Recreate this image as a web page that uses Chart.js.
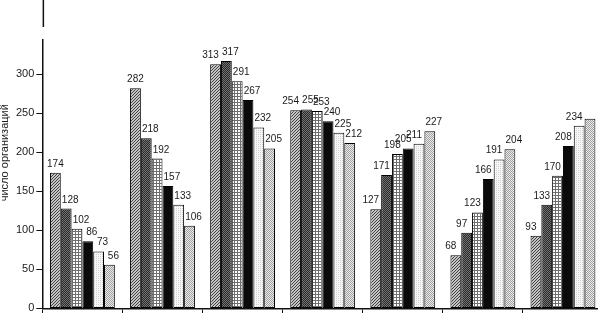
<!DOCTYPE html>
<html>
<head>
<meta charset="utf-8">
<script src="https://cdn.jsdelivr.net/npm/chart.js@4.4.0/dist/chart.umd.min.js"></script>
<style>
    html, body { margin: 0; padding: 0; background: #fff; overflow: hidden; }
    #wrap { width: 598px; height: 313px; overflow: hidden; }
</style>
</head>
<body>
<div id="wrap"><canvas id="chartbar" width="612" height="317"></canvas></div>
<script>
// Data: 7 groups, 6 bars in each
const groups = ['1', '2', '3', '4', '5', '6', '7'];
const series1 = [174, 282, 313, 254, 127, 68, 93];
const series2 = [128, 218, 317, 255, 171, 97, 133];
const series3 = [102, 192, 291, 253, 198, 123, 170];
const series4 = [86, 157, 267, 240, 205, 166, 208];
const series5 = [73, 133, 232, 225, 211, 191, 234];
const series6 = [56, 106, 205, 212, 227, 204, 243];
const yTicks = [0, 50, 100, 150, 200, 250, 300];
const yMax = 344;
const yTitle = 'число организаций';
// the last bar of the last group carries no number in the original
const unlabeled = [[5, 6]];

// small tiles used as bar fills
function makePattern(size, bg, fg, pixels) {
    const c = document.createElement('canvas');
    c.width = size;
    c.height = size;
    const g = c.getContext('2d');
    g.fillStyle = bg;
    g.fillRect(0, 0, size, size);
    g.fillStyle = fg;
    pixels.forEach(p => g.fillRect(p[0], p[1], 1, 1));
    return g.createPattern(c, 'repeat');
}

const fills = [
    makePattern(3, '#c4c4c4', '#404040', [[0, 2], [1, 1], [2, 0]]),            // diagonal hatch
    makePattern(2, '#2a2a2a', '#727272', [[0, 0], [1, 1]]),                      // dark dense
    makePattern(3, '#ffffff', '#6e6e6e', [[0, 0], [1, 0], [2, 0], [0, 1], [0, 2]]), // grid
    '#0a0a0a',                                                                     // solid black
    makePattern(2, '#f7f7f7', '#cfcfcf', [[0, 0]]),                              // light stipple
    makePattern(2, '#ebebeb', '#a0a0a0', [[0, 0], [1, 1]])                       // dotted
];

const allSeries = [series1, series2, series3, series4, series5, series6];

const barData = {
    labels: groups,
    datasets: allSeries.map((s, i) => ({
        data: s,
        backgroundColor: fills[i],
        borderColor: '#000',
        borderWidth: 1,
        borderSkipped: false
    }))
};

// numbers over the bars: nudged towards the lower neighbour, like the original
const valueLabels = {
    id: 'valueLabels',
    beforeDatasetsDraw(chart) {
        const ctx = chart.ctx;
        const sets = chart.data.datasets;
        ctx.save();
        ctx.font = '10px "Liberation Sans", Arial, sans-serif';
        ctx.fillStyle = '#1a1a1a';
        ctx.textAlign = 'center';
        ctx.textBaseline = 'alphabetic';
        sets.forEach((ds, di) => {
            chart.getDatasetMeta(di).data.forEach((bar, idx) => {
                if (unlabeled.some(u => u[0] === di && u[1] === idx)) return;
                const v = ds.data[idx];
                const next = di < sets.length - 1 ? sets[di + 1].data[idx] : null;
                const prev = di > 0 ? sets[di - 1].data[idx] : null;
                let shift = 0;
                if (next !== null && next > v) shift = -5;
                else if (prev !== null) shift = 4;
                ctx.fillText(String(v), bar.x + shift, bar.y - 6);
            });
        });
        ctx.restore();
    },
    afterDraw(chart) {
        const ctx = chart.ctx;
        const area = chart.chartArea;
        ctx.save();
        // rotated axis title
        ctx.font = '11px "Liberation Sans", Arial, sans-serif';
        ctx.fillStyle = '#1a1a1a';
        ctx.textAlign = 'center';
        ctx.textBaseline = 'middle';
        ctx.translate(5, area.top + area.height * 0.42);
        ctx.rotate(-Math.PI / 2);
        ctx.fillText(yTitle, 0, 0);
        ctx.restore();
        // stray axis piece above the break
        ctx.save();
        ctx.strokeStyle = '#111';
        ctx.lineWidth = 1.5;
        ctx.beginPath();
        ctx.moveTo(area.left + 1, 0);
        ctx.lineTo(area.left + 1, area.top - 13);
        ctx.stroke();
        ctx.restore();
    }
};

const barChart = new Chart(document.getElementById('chartbar'), {
    type: 'bar',
    data: barData,
    plugins: [valueLabels],
    options: {
        responsive: false,
        animation: false,
        layout: {
            padding: { top: 40, left: 14, right: 9, bottom: 0 }
        },
        datasets: {
            bar: {
                categoryPercentage: 0.81,
                barPercentage: 1
            }
        },
        scales: {
            x: {
                grid: {
                    offset: true,
                    drawOnChartArea: false,
                    tickLength: 5,
                    color: '#111',
                    lineWidth: 1
                },
                border: { color: '#111', width: 1.5 },
                ticks: { display: false }
            },
            y: {
                min: 0,
                max: yMax,
                afterBuildTicks: scale => {
                    scale.ticks = yTicks.map(v => ({ value: v }));
                },
                grid: {
                    drawOnChartArea: false,
                    tickLength: 6,
                    color: '#111'
                },
                border: { color: '#111', width: 1.5 },
                ticks: {
                    padding: 2,
                    color: '#1a1a1a',
                    font: { family: '"Liberation Sans", Arial, sans-serif', size: 11 }
                }
            }
        },
        plugins: {
            legend: { display: false },
            tooltip: { enabled: false }
        }
    }
});
</script>
</body>
</html>
